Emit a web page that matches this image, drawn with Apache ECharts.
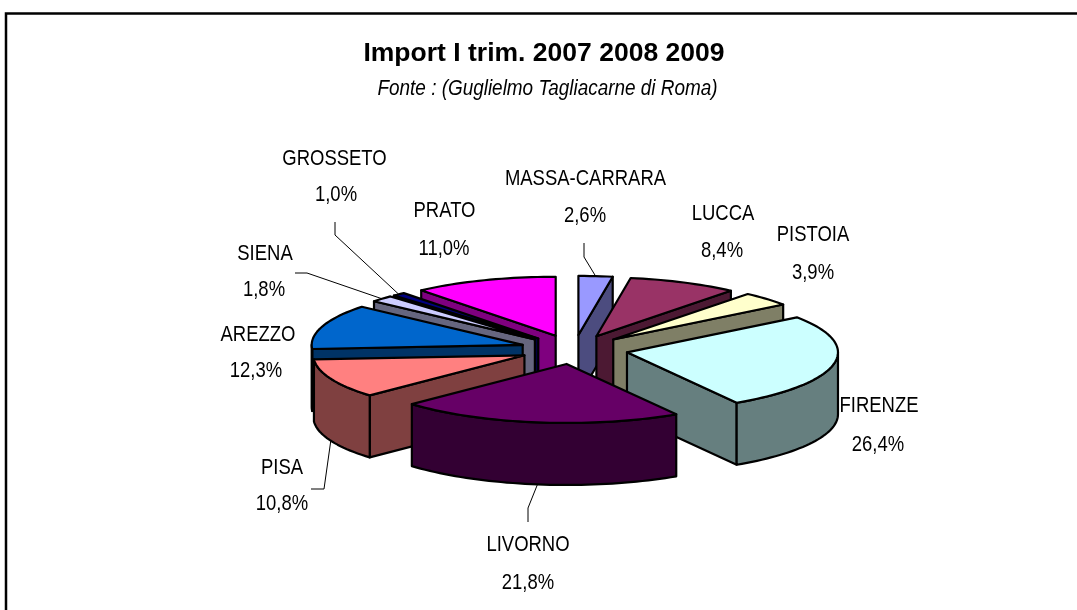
<!DOCTYPE html>
<html>
<head>
<meta charset="utf-8">
<style>html,body{margin:0;padding:0;background:#fff}#c{width:1077px;height:610px}</style>
<script src="https://cdn.jsdelivr.net/npm/echarts@6/dist/echarts.min.js"></script>
</head>
<body>
<div id="c"></div>
<script>
// ---- data ----
const provinces = ['MASSA-CARRARA','LUCCA','PISTOIA','FIRENZE','LIVORNO','PISA','AREZZO','SIENA','GROSSETO','PRATO'];
const shares = [2.6, 8.4, 3.9, 26.4, 21.8, 10.8, 12.3, 1.8, 1.0, 11.0];
const titleText = 'Import I trim. 2007 2008 2009';
const subtitleText = 'Fonte : (Guglielmo Tagliacarne di Roma)';

// ---- styles ----
const topColors = ['#9999FF','#993366','#FFFFCC','#CCFFFF','#660066','#FF8080','#0066CC','#CCCCFF','#000080','#FF00FF'];
const sideColors = ['#4C4C7F','#4C1933','#7F7F66','#667F7F','#330033','#7F4040','#003366','#66667F','#000040','#7F007F'];

// ---- layout (pixels, not data) ----
const pie = {cx: 574, cy: 349.5, rx: 211, ry: 59, depth: 62, explodeX: 54, explodeY: 14.6, lw: 2.2};
// label centres: [name x, name y, value x, value y]
const labelPos = [
  [585.5,179,585,216],[723,214,722,251],[813,235,813,273],[879,406,878,445],[528,545,528,583],
  [282,468,282,504],[258,335,256,371],[265,254,264,290],[334.5,159,336,195],[444.5,211,444,249]
];
// leader lines: free end and elbow; the third point is computed from the slice
const leaders = {
  0: [[584,243],[584,257]],
  4: [[528,522],[528,508]],
  5: [[311,489],[324,489]],
  7: [[295,273],[307,273]],
  8: [[335,222],[335,235]]
};

const fmt = v => v.toFixed(1).replace('.', ',') + '%';
const total = shares.reduce((a, b) => a + b, 0);
const starts = [];
shares.reduce((acc, v, i) => { starts[i] = acc; return acc + v; }, 0);

function renderSlice(params, api) {
  const i = params.dataIndex;
  const v = api.value(0);
  const a0 = starts[i] / total * Math.PI * 2;
  const a1 = (starts[i] + v) / total * Math.PI * 2;
  const mid = (a0 + a1) / 2;
  const ax = pie.cx + pie.explodeX * Math.sin(mid);
  const ay = pie.cy - pie.explodeY * Math.cos(mid);
  const pt = (a, d) => [ax + pie.rx * Math.sin(a), ay - pie.ry * Math.cos(a) + (d || 0)];
  const z = Math.round((1 - Math.cos(mid)) * 100) * 10;
  const stroke = {stroke: '#000', lineWidth: pie.lw, lineJoin: 'round'};
  const children = [];
  const poly = (points, fill, z2) => children.push({
    type: 'polygon', z2: z2, shape: {points: points}, style: Object.assign({fill: fill}, stroke)
  });
  const arc = (from, to, d) => {
    const n = Math.max(2, Math.ceil((to - from) / 0.03));
    const out = [];
    for (let k = 0; k <= n; k++) out.push(pt(from + (to - from) * k / n, d));
    return out;
  };
  const apexLow = [ax, ay + pie.depth];
  // radial sides that face the viewer
  if (Math.sin(a0) < -1e-6) poly([[ax, ay], pt(a0), pt(a0, pie.depth), apexLow], sideColors[i], z + 1);
  if (Math.sin(a1) > 1e-6) poly([[ax, ay], pt(a1), pt(a1, pie.depth), apexLow], sideColors[i], z + 1);
  // outer rim
  const r0 = Math.max(a0, Math.PI / 2), r1 = Math.min(a1, Math.PI * 1.5);
  if (r1 > r0) poly(arc(r0, r1, 0).concat(arc(r0, r1, pie.depth).reverse()), sideColors[i], z + 2);
  // top face
  poly([[ax, ay]].concat(arc(a0, a1, 0)), topColors[i], z + 3);

  // leader line
  if (leaders[i]) {
    const lowerHalf = Math.cos(mid) < 0;
    const tip = pt(mid, lowerHalf ? pie.depth : 0);
    children.push({
      type: 'polyline', z2: 5000,
      shape: {points: leaders[i].concat([tip])},
      style: {fill: null, stroke: '#000', lineWidth: 1}
    });
  }
  // labels (tall, narrow type as in the reference)
  const lp = labelPos[i];
  const txt = (s, x, y) => children.push({
    type: 'text', z2: 6000, x: x, y: y, scaleX: 0.84,
    style: {text: s, x: 0, y: 0, fill: '#000', align: 'center', verticalAlign: 'middle',
            font: '22px "Liberation Sans"'}
  });
  txt(provinces[i], lp[0], lp[1]);
  txt(fmt(v), lp[2], lp[3]);
  return {type: 'group', children: children};
}

const chart = echarts.init(document.getElementById('c'), null, {renderer: 'canvas'});
chart.setOption({
  backgroundColor: '#fff',
  animation: false,
  graphic: [
    {type: 'polyline', z: -1, silent: true,
     shape: {points: [[6, 640], [6, 13.5], [1090, 13.5]]},
     style: {fill: null, stroke: '#000', lineWidth: 2.5}},
    {type: 'text', silent: true, x: 544, y: 54, scaleX: 1.02,
     style: {text: titleText, x: 0, y: 0, align: 'center', verticalAlign: 'middle', fill: '#000',
             font: 'bold 26px "Liberation Sans"'}},
    {type: 'text', silent: true, x: 547.5, y: 89, scaleX: 0.86,
     style: {text: subtitleText, x: 0, y: 0, align: 'center', verticalAlign: 'middle', fill: '#000',
             font: 'italic 22px "Liberation Sans"'}}
  ],
  series: [{
    type: 'custom',
    coordinateSystem: 'none',
    silent: true,
    renderItem: renderSlice,
    data: shares.map((v, i) => ({name: provinces[i], value: [v]}))
  }]
});
</script>
</body>
</html>
